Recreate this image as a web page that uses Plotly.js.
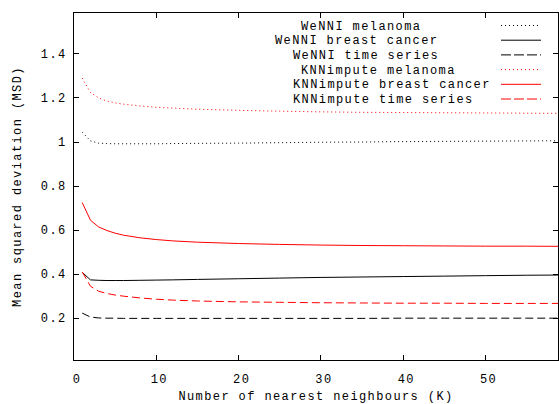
<!DOCTYPE html>
<html>
<head>
<meta charset="utf-8">
<script src="https://cdn.plot.ly/plotly-3.0.1.min.js"></script>
<style>
html,body{margin:0;padding:0;background:#fff;}
svg text{letter-spacing:1.4px;}
</style>
</head>
<body>
<div id="chart" style="width:559px;height:404px;"></div>
<script>
// ---- data ----
var K = [1, 2, 3, 4, 5, 6, 8, 10, 12, 15, 20, 25, 30, 35, 40, 45, 50, 55, 60];

var wenniMelanoma = [1.045, 1.005, 0.995, 0.993, 0.992, 0.992, 0.992, 0.992, 0.993, 0.994, 0.995, 0.997, 0.999, 1.000, 1.002, 1.003, 1.004, 1.005, 1.006];
var wenniBreast   = [0.408, 0.374, 0.372, 0.371, 0.371, 0.371, 0.372, 0.373, 0.374, 0.376, 0.379, 0.382, 0.385, 0.387, 0.389, 0.391, 0.393, 0.395, 0.396];
var wenniTime     = [0.223, 0.205, 0.201, 0.200, 0.200, 0.199, 0.199, 0.199, 0.199, 0.199, 0.199, 0.199, 0.199, 0.199, 0.200, 0.200, 0.200, 0.200, 0.200];
var knnMelanoma   = [1.290, 1.225, 1.200, 1.186, 1.178, 1.172, 1.164, 1.158, 1.154, 1.149, 1.144, 1.140, 1.137, 1.135, 1.134, 1.133, 1.132, 1.131, 1.130];
var knnBreast     = [0.725, 0.645, 0.614, 0.598, 0.586, 0.577, 0.565, 0.557, 0.551, 0.545, 0.539, 0.535, 0.532, 0.530, 0.529, 0.528, 0.527, 0.527, 0.526];
var knnTime       = [0.410, 0.345, 0.322, 0.312, 0.305, 0.300, 0.292, 0.286, 0.282, 0.278, 0.274, 0.272, 0.270, 0.269, 0.268, 0.268, 0.267, 0.267, 0.267];

var seriesNames = ["WeNNI melanoma", "WeNNI breast cancer", "WeNNI time series",
                   "KNNimpute melanoma", "KNNimpute breast cancer", "KNNimpute time series"];
var xTitle = "Number of nearest neighbours (K)";
var yTitle = "Mean squared deviation (MSD)";

// ---- styles ----
var seriesData = [wenniMelanoma, wenniBreast, wenniTime, knnMelanoma, knnBreast, knnTime];
var colors = ["#000000", "#000000", "#000000", "#ff0000", "#ff0000", "#ff0000"];
var dashes = ["1px,3px", "solid", "8px,4px", "1px,3px", "solid", "8px,4px"];
var keyDashes = ["1px,3px", "solid", "10px,3px", "1px,3px", "solid", "10px,3px"];

var FONT = "Liberation Mono, Courier New, monospace";
var FS = 12;

var traces = seriesData.map(function (d, i) {
  return {
    x: K, y: d, type: "scatter", mode: "lines", name: seriesNames[i],
    line: {color: colors[i], width: 1, dash: dashes[i], simplify: false},
    showlegend: false, hoverinfo: "skip"
  };
});

// plot area in pixels
var L = 74, R = 558, T = 13, B = 360;
function px2x(px) { return (px - L) / (R - L); }
function py2y(py) { return (B - py) / (B - T); }

// gnuplot-style key: text then sample on the right
var keyRowY = [25.5, 40.2, 54.9, 69.6, 84.3, 99.0];
var keyTextLeft = [299, 273, 291, 299, 291, 291];
var annotations = [], shapes = [];
seriesNames.forEach(function (n, i) {
  annotations.push({
    xref: "paper", yref: "paper", x: px2x(keyTextLeft[i]), y: py2y(keyRowY[i] + 1),
    xanchor: "left", yanchor: "middle", text: n, showarrow: false,
    font: {family: FONT, size: FS, color: "#000"}
  });
  shapes.push({
    type: "line", xref: "paper", yref: "paper",
    x0: px2x(501), x1: px2x(541), y0: py2y(keyRowY[i]), y1: py2y(keyRowY[i]),
    line: {color: colors[i], width: 1, dash: keyDashes[i]}
  });
});

var axisCommon = {
  showgrid: false, zeroline: false, showline: true, linecolor: "#000", linewidth: 1,
  mirror: "allticks", ticks: "inside", ticklen: 5, tickcolor: "#000", tickwidth: 1,
  tickfont: {family: FONT, size: FS, color: "#000"}
};

var layout = {
  width: 559, height: 404,
  margin: {l: L, r: 559 - R, t: T, b: 404 - B, pad: 0},
  paper_bgcolor: "#fff", plot_bgcolor: "#fff",
  showlegend: false,
  font: {family: FONT, size: FS, color: "#000"},
  xaxis: Object.assign({}, axisCommon, {
    range: [0, 58.8], tickmode: "linear", tick0: 0, dtick: 10,
    ticklabelstandoff: 8, ticklabelshift: 3,
    title: {text: xTitle, font: {family: FONT, size: FS, color: "#000"}, standoff: 18}
  }),
  yaxis: Object.assign({}, axisCommon, {
    range: [0.01, 1.586], tickmode: "linear", tick0: 0, dtick: 0.2,
    ticklabelstandoff: 4,
    title: {text: yTitle, font: {family: FONT, size: FS, color: "#000"}, standoff: 16}
  }),
  annotations: annotations,
  shapes: shapes
};

Plotly.newPlot("chart", traces, layout, {staticPlot: true, displayModeBar: false});
</script>
</body>
</html>
